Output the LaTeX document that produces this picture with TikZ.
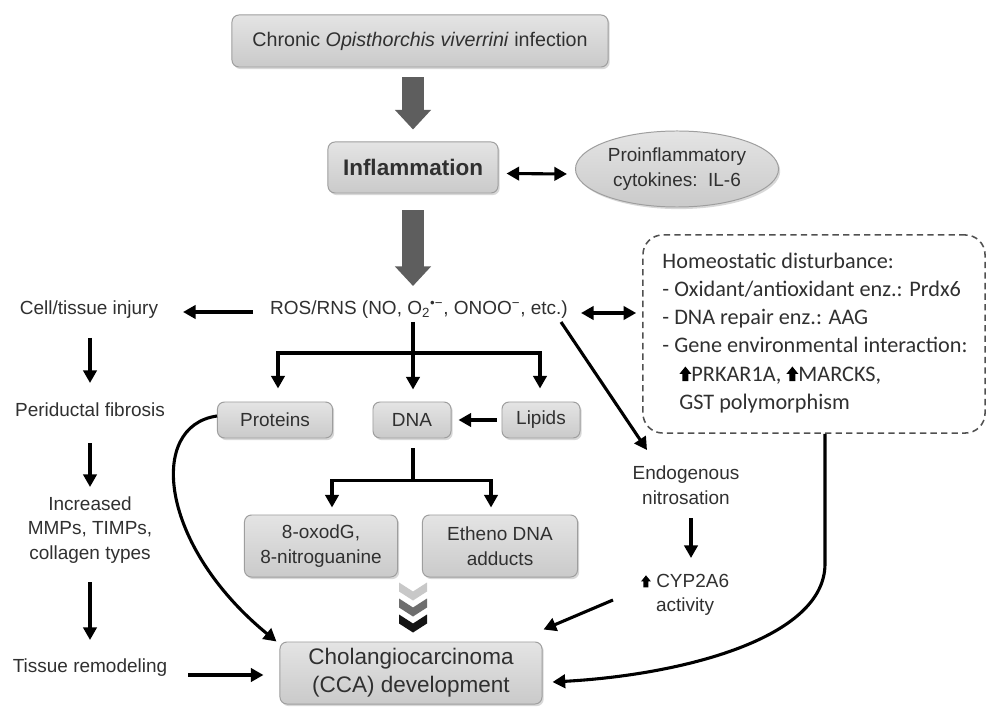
\documentclass[tikz,border=0pt]{standalone}
\usepackage{fontspec}
\setmainfont{Liberation Sans}
\newfontfamily\calib{Carlito}
\usetikzlibrary{arrows.meta,calc,shadows,shapes.geometric}
\definecolor{txtgray}{HTML}{303030}
\definecolor{boxtop}{HTML}{E4E4E4}
\definecolor{boxbot}{HTML}{CACACA}
\definecolor{boxedge}{HTML}{9E9E9E}
\definecolor{bigarrowc}{HTML}{5E5E5E}
\definecolor{dashc}{HTML}{505050}
\definecolor{chevA}{HTML}{C8C8C8}
\definecolor{chevB}{HTML}{6E6E6E}
\definecolor{chevC}{HTML}{141414}
\newcommand{\fsn}{\fontsize{13.5}{17.5}\selectfont}
\newcommand{\fst}{\fontsize{14}{17.5}\selectfont}
\newcommand{\fsb}{\fontsize{16}{20}\selectfont}
\newcommand{\fsc}{\fontsize{15.8}{20}\selectfont}
\newcommand{\uparr}[1][1]{\tikz[baseline=0pt,x=#1pt,y=#1pt]\fill[black] (1.9,0) rectangle (5.6,4.6) (0,4.4) -- (3.75,9) -- (7.5,4.4) -- cycle;}
\begin{document}
\begin{tikzpicture}[x=0.025cm,y=-0.025cm,
  box/.style={draw=boxedge, line width=0.7pt, rounded corners=5pt,
    top color=boxtop, bottom color=boxbot,
    drop shadow={shadow xshift=1.2pt, shadow yshift=-1.5pt, opacity=0.3},
    text=txtgray, font=\fsn, align=center, inner sep=0pt},
  lbl/.style={text=txtgray, font=\fsn, align=center, inner sep=0pt},
  arr/.style={line width=2.2pt, -{Triangle[length=9pt,width=9.5pt]}},
  darr/.style={line width=2.2pt, {Triangle[length=9pt,width=9.5pt]}-{Triangle[length=9pt,width=9.5pt]}},
  ln/.style={line width=2.2pt},
  bigarr/.style={line width=15.5pt, draw=bigarrowc, -{Triangle[length=14pt,width=25pt]}},
  dashbox/.style={draw=dashc, line width=1.1pt, dash pattern=on 4.5pt off 3pt, rounded corners=14pt}
]
\fill[white] (0,0) rectangle (990,707);
\useasboundingbox (0,0) rectangle (990,707);

% boxes
\node[box, font=\fst, minimum width=9.4cm, minimum height=1.3cm] (top) at (420,41) {Chronic \textit{Opisthorchis viverrini} infection};
\node[box, font=\fsb\bfseries, minimum width=4.25cm, minimum height=1.275cm] (infl) at (413,167.5) {Inflammation};
\node[box, ellipse, minimum width=5.075cm, minimum height=1.9cm] (ell) at (677,169) {Proinflammatory\\cytokines:\ \ IL-6};
\node[lbl] (ros) at (419,310) {ROS/RNS (NO, O\textsubscript{2}\textsuperscript{•−}, ONOO\textsuperscript{−}, etc.)};
\node[box, minimum width=2.875cm, minimum height=0.9cm] (proteins) at (275,420) {Proteins};
\node[box, minimum width=1.95cm, minimum height=0.9cm] (dna) at (412,420) {DNA};
\node[box, minimum width=1.95cm, minimum height=0.9cm] (lipids) at (541,420) {Lipids};
\node[box, minimum width=3.825cm, minimum height=1.55cm] (oxo) at (321,546) {8-oxodG,\\8-nitroguanine};
\node[box, minimum width=3.875cm, minimum height=1.55cm] (etheno) at (500,546) {Etheno DNA\\adducts};
\node[box, font=\fsb, minimum width=6.55cm, minimum height=1.55cm] (cca) at (411,673) {Cholangiocarcinoma\\(CCA) development};

% left column
\node[lbl] (cell) at (89,310) {Cell/tissue injury};
\node[lbl] (peri) at (90,410) {Periductal fibrosis};
\node[lbl] (mmp) at (90,530) {Increased\\MMPs, TIMPs,\\collagen types};
\node[lbl] (tissue) at (90,668) {Tissue remodeling};

% right column
\node[dashbox, minimum width=8.55cm, minimum height=4.95cm] (hd) at (814,334) {};
\node[anchor=west, align=left, inner sep=0pt, text=txtgray, font=\calib\fsc] (hdtext) at ($(hd.west)+(20,-1)$)
  {Homeostatic disturbance:\\- Oxidant/antioxidant enz.: Prdx6\\- DNA repair enz.: AAG\\- Gene environmental interaction:\\\hspace*{12pt}\uparr[1.15]PRKAR1A, \uparr[1.15]MARCKS,\\\hspace*{12pt}GST polymorphism};
\node[lbl] (endo) at (686,485) {Endogenous\\nitrosation};
\node[lbl] (cyp) at (685,595) {\uparr[0.95]\ CYP2A6\\activity};

% big arrows
\draw[bigarr] ($(infl.north |- top.south)+(0,10)$) -- ($(infl.north)+(0,-12)$);
\draw[bigarr] ($(infl.south)+(0,17)$) -- ($(infl.south |- ros.center)+(0,-24)$);

% connectors
\draw[darr] ($(infl.east)+(8,6)$) -- ($(ell.west)+(-8,5)$);
\draw[arr] ($(ros)+(-166,2)$) -- ($(cell)+(94,2)$);
\draw[darr] ($(ros)+(162,3)$) -- ($(hd.west)+(-6,-21)$);

\coordinate (b1) at ($(ros)+(-6,43)$);
\draw[arr] ($(ros)+(-6,12)$) -- ($(dna.north)+(1,-12)$);
\draw[arr] (b1) -| ($(proteins.north)+(3,-13)$);
\draw[arr] (b1) -| ($(lipids.north)+(-1,-13)$);
\draw[arr] ($(lipids.west)+(-5,0)$) -- ($(dna.east)+(7,0)$);

\coordinate (b2) at ($(dna.south)+(1,42)$);
\draw[ln] ($(dna.south)+(1,10)$) -- (b2);
\draw[arr] (b2) -| ($(oxo.north)+(11,-7)$);
\draw[arr] (b2) -| ($(etheno.north)+(-9,-7)$);

% chevrons
\coordinate (chv) at ($(cca.north)+(2,-59)$);
\foreach \c/\dy in {chevA/0, chevB/16, chevC/32}
  \fill[\c] ($(chv)+(-14,\dy)$) -- ++(14,9) -- ++(14,-9) -- ++(0,9) -- ++(-14,9) -- ++(-14,-9) -- cycle;

\draw[arr] ($(proteins.west)+(0,-4)$) .. controls +(-70,10) and +(-117,-96) .. ($(cca.north west)+(-3,0)$);
\draw[arr] ($(ros)+(142,12)$) -- ($(endo)+(-39,-35)$);
\draw[arr] ($(endo)+(5,33)$) -- ($(cyp)+(6,-37)$);
\draw[arr] ($(cyp)+(-72,5)$) -- ($(cca.north east)+(1,-12)$);
\draw[arr] ($(hd.south)+(11,0)$) -- ++(0,130) .. controls +(0,75) and +(128,-7) .. ($(cca.east)+(10,9)$);

% left column arrows
\draw[arr] ($(cell)+(1,28)$) -- ($(peri)+(0,-27)$);
\draw[arr] ($(peri)+(0,33)$) -- ($(mmp)+(0,-43)$);
\draw[arr] ($(mmp)+(0,52)$) -- ($(tissue)+(0,-28)$);
\draw[arr] ($(tissue)+(98,7)$) -- ($(cca.west)+(-16,2)$);
\end{tikzpicture}
\end{document}
